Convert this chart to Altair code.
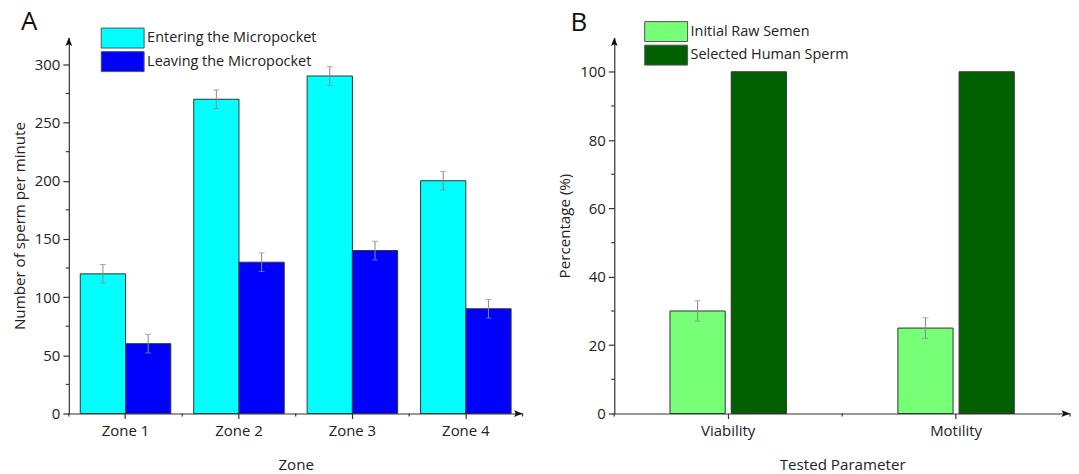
import altair as alt
import pandas as pd

# ---------------- data ----------------
zones = ["Zone 1", "Zone 2", "Zone 3", "Zone 4"]
entering = [120, 270, 290, 200]
entering_err = [8, 8, 8, 8]
leaving = [60, 130, 140, 90]
leaving_err = [8, 8, 8, 8]
series_a = ["Entering the Micropocket", "Leaving the Micropocket"]
colors_a = ["#00FFFF", "#0000FF"]
ticks_a = [0, 50, 100, 150, 200, 250, 300]
minor_a = [25, 75, 125, 175, 225, 275]

params = ["Viability", "Motility"]
raw = [30, 25]
raw_err = [3, 3]
selected = [100, 100]
selected_err = [0, 0]
series_b = ["Initial Raw Semen", "Selected Human Sperm"]
colors_b = ["#77FF77", "#006000"]
ticks_b = [0, 20, 40, 60, 80, 100]
minor_b = [10, 30, 50, 70, 90]

FONT = "Open Sans"
TXT = "#222222"
AX = "#333333"


def make_df(cats, series, vals_list, errs_list):
    rows = []
    for s, vals, errs in zip(series, vals_list, errs_list):
        for c, v, e in zip(cats, vals, errs):
            rows.append({"cat": c, "series": s, "value": v, "err": e,
                         "lo": v - e, "hi": v + e})
    return pd.DataFrame(rows)


def panel(df, cats, series, colors, ymax, ticks, minor, xtitle, ytitle,
          letter, W, H, off_inner, off_outer, leg_x, leg_y, let_x, let_y):
    xs = alt.Scale(domain=cats, paddingInner=0, paddingOuter=0)
    xo = alt.XOffset("series:N", sort=series,
                     scale=alt.Scale(domain=series, paddingInner=off_inner,
                                     paddingOuter=off_outer))
    ys = alt.Scale(domain=[0, ymax], nice=False, zero=True)
    legend = alt.Legend(
        title=None, orient="none", legendX=leg_x, legendY=leg_y, padding=0,
        symbolType="M-2.15,-1L2.15,-1L2.15,1L-2.15,1Z", symbolSize=400,
        symbolStrokeColor="#555555", symbolStrokeWidth=1, symbolOpacity=1,
        labelFont=FONT, labelFontSize=14.5, labelColor=TXT, labelOffset=14,
        labelLimit=400, rowPadding=-1.4,
    )
    base = alt.Chart(df)
    bars = base.mark_bar(stroke="#333333", strokeWidth=1, opacity=1).encode(
        x=alt.X("cat:N", sort=cats, scale=xs,
                axis=alt.Axis(title=xtitle, labelAngle=0, tickSize=5,
                              labelPadding=5, titlePadding=19)),
        xOffset=xo,
        y=alt.Y("value:Q", scale=ys,
                axis=alt.Axis(title=ytitle, values=ticks, tickSize=6,
                              labelPadding=3, titlePadding=7, grid=False)),
        fill=alt.Fill("series:N", sort=series,
                      scale=alt.Scale(domain=series, range=colors),
                      legend=legend),
    )
    eb = base.transform_filter("datum.err > 0")
    err_line = eb.mark_rule(color="#8a8a8a", strokeWidth=1).encode(
        x=alt.X("cat:N", sort=cats, scale=xs), xOffset=xo,
        y=alt.Y("lo:Q", scale=ys), y2="hi:Q")
    cap_hi = eb.mark_tick(color="#8a8a8a", thickness=1, size=6).encode(
        x=alt.X("cat:N", sort=cats, scale=xs), xOffset=xo,
        y=alt.Y("hi:Q", scale=ys))
    cap_lo = eb.mark_tick(color="#8a8a8a", thickness=1, size=6).encode(
        x=alt.X("cat:N", sort=cats, scale=xs), xOffset=xo,
        y=alt.Y("lo:Q", scale=ys))
    # minor ticks on y axis
    ymin = alt.Chart(pd.DataFrame({"v": minor})).mark_rule(
        color=AX, strokeWidth=1.2).encode(
        y=alt.Y("v:Q", scale=ys), x=alt.value(-3), x2=alt.value(0))
    # minor ticks at category boundaries on x axis
    cdf = pd.DataFrame({"cat": cats})
    xmin0 = alt.Chart(cdf).mark_rule(color=AX, strokeWidth=1.2).encode(
        x=alt.X("cat:N", sort=cats, scale=xs, bandPosition=0),
        y=alt.value(H), y2=alt.value(H + 3))
    xmin1 = alt.Chart(pd.DataFrame({"cat": [cats[-1]]})).mark_rule(
        color=AX, strokeWidth=1.2).encode(
        x=alt.X("cat:N", sort=cats, scale=xs, bandPosition=1),
        y=alt.value(H), y2=alt.value(H + 3))
    one = pd.DataFrame({"t": [letter]})
    arrow_up = alt.Chart(one).mark_point(
        shape="M0,-1L0.75,0.9L0,0.5L-0.75,0.9Z", filled=True, size=81,
        color="#111111", opacity=1).encode(x=alt.value(0), y=alt.value(4.5))
    arrow_right = alt.Chart(one).mark_point(
        shape="M1,0L-0.9,0.75L-0.5,0L-0.9,-0.75Z", filled=True, size=81,
        color="#111111", opacity=1).encode(x=alt.value(W - 4.5), y=alt.value(H))
    lab = alt.Chart(one).mark_text(
        font=FONT, fontSize=26, color="#111111", align="left",
        baseline="alphabetic").encode(
        text="t:N", x=alt.value(let_x), y=alt.value(let_y))
    return alt.layer(bars, err_line, cap_hi, cap_lo, ymin, xmin0, xmin1,
                     arrow_up, arrow_right, lab).properties(width=W, height=H)


dfa = make_df(zones, series_a, [entering, leaving], [entering_err, leaving_err])
dfb = make_df(params, series_b, [raw, selected], [raw_err, selected_err])

left = panel(dfa, zones, series_a, colors_a, 323, ticks_a, minor_a,
             "Zone", "Number of sperm per minute", "A",
             455, 377, 0, 0.253, 43.5, -10, -48, -7.5)
right = panel(dfb, params, series_b, colors_b, 110, ticks_b, minor_b,
              "Tested Parameter", "Percentage (%)", "B",
              457, 377, 0.098, 0.91, 41.5, -16.5, -44, -7)

chart = alt.hconcat(left, right, spacing=34).resolve_scale(
    fill="independent", xOffset="independent").properties(
    padding={"left": 4, "top": 0, "right": 0, "bottom": 0}
).configure_view(stroke=None).configure_axis(
    domainColor=AX, domainWidth=1.2, tickColor=AX, tickWidth=1.2,
    labelFont=FONT, labelFontSize=15, labelColor=TXT,
    titleFont=FONT, titleFontSize=15.2, titleFontWeight="normal", titleColor=TXT,
)

chart.save("out.html", embed_options={"renderer": "svg", "actions": False})
